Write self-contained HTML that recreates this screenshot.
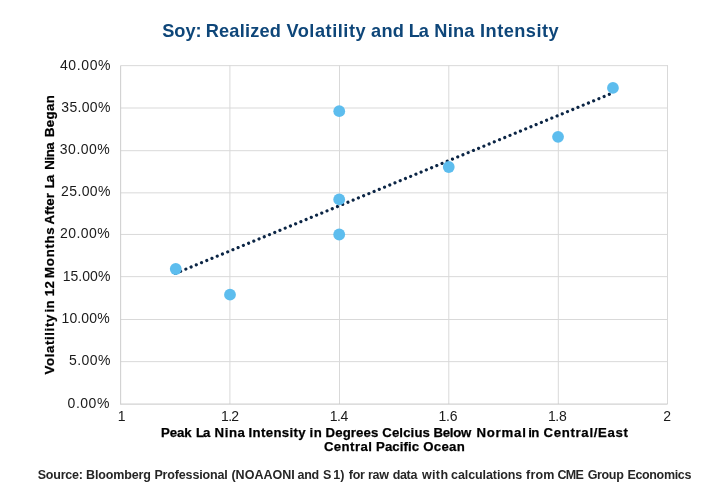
<!DOCTYPE html>
<html>
<head>
<meta charset="utf-8">
<style>
html,body{margin:0;padding:0;background:#fff;}
body{width:720px;height:500px;overflow:hidden;}
svg{display:block;}
text{font-family:"Liberation Sans", sans-serif;}
</style>
</head>
<body>
<svg width="720" height="500" viewBox="0 0 720 500" style="will-change:transform">
<rect x="0" y="0" width="720" height="500" fill="#fff"/>
<g font-size="18.2" font-weight="bold" fill="#0e4679">
<text x="162.25" y="36.75" letter-spacing="-0.042">Soy:</text>
<text x="205.65" y="36.75" letter-spacing="0.211">Realized</text>
<text x="286.38" y="36.75" letter-spacing="0.539">Volatility</text>
<text x="371.0" y="36.75" letter-spacing="0.312">and</text>
<text x="408.75" y="36.75" letter-spacing="-1.125">La</text>
<text x="434.35" y="36.75" letter-spacing="0.183">Nina</text>
<text x="480.0" y="36.75" letter-spacing="0.484">Intensity</text>
</g>
<g stroke="#d9d9d9" stroke-width="1" fill="none">
<line x1="120.6" y1="65.65" x2="668" y2="65.65"/>
<line x1="120.6" y1="108.0" x2="668" y2="108.0"/>
<line x1="120.6" y1="150.7" x2="668" y2="150.7"/>
<line x1="120.6" y1="192.85" x2="668" y2="192.85"/>
<line x1="120.6" y1="234.45" x2="668" y2="234.45"/>
<line x1="120.6" y1="276.65" x2="668" y2="276.65"/>
<line x1="120.6" y1="319.5" x2="668" y2="319.5"/>
<line x1="120.6" y1="361.65" x2="668" y2="361.65"/>
<line x1="229.9" y1="65.15" x2="229.9" y2="404.1"/>
<line x1="339.5" y1="65.15" x2="339.5" y2="404.1"/>
<line x1="448.8" y1="65.15" x2="448.8" y2="404.1"/>
<line x1="558.3" y1="65.15" x2="558.3" y2="404.1"/>
<line x1="667.5" y1="65.15" x2="667.5" y2="404.1"/>
</g>
<line x1="120.6" y1="404.1" x2="667.5" y2="404.1" stroke="#c6c6c6" stroke-width="1"/>
<line x1="120.65" y1="65.65" x2="120.65" y2="404.6" stroke="#cccccc" stroke-width="1"/>
<g font-size="14" fill="#1a1a1a">
<text x="59.92" y="69.50" letter-spacing="0.635">40.00%</text>
<text x="61.35" y="111.60" letter-spacing="0.31">35.00%</text>
<text x="59.85" y="153.80" letter-spacing="0.48">30.00%</text>
<text x="61.1" y="196.00" letter-spacing="0.36">25.00%</text>
<text x="59.9" y="238.45" letter-spacing="0.46">20.00%</text>
<text x="62.68" y="280.50" letter-spacing="0.045">15.00%</text>
<text x="61.48" y="322.80" letter-spacing="0.145">10.00%</text>
<text x="69.08" y="364.70" letter-spacing="0.394">5.00%</text>
<text x="67.6" y="407.50" letter-spacing="0.513">0.00%</text>
</g>
<g font-size="14" fill="#1a1a1a">
<text x="117.68" y="420.75">1</text>
<text x="221.08" y="420.75" letter-spacing="-0.737">1.2</text>
<text x="329.68" y="420.75" letter-spacing="-0.45">1.4</text>
<text x="438.58" y="420.75" letter-spacing="-0.275">1.6</text>
<text x="547.88" y="420.75" letter-spacing="-0.325">1.8</text>
<text x="663.35" y="420.75">2</text>
</g>
<line x1="175.4" y1="273.45" x2="612.9" y2="92.9" stroke="#0b2545" stroke-width="3.2" stroke-linecap="round" stroke-dasharray="0.001 5.655"/>
<g fill="#5dbdee">
<circle cx="175.75" cy="269" r="5.9"/>
<circle cx="230" cy="294.7" r="5.9"/>
<circle cx="339.25" cy="111.2" r="5.9"/>
<circle cx="339.2" cy="199.4" r="5.9"/>
<circle cx="339.2" cy="234.5" r="5.9"/>
<circle cx="448.75" cy="167" r="5.9"/>
<circle cx="558.05" cy="136.8" r="5.9"/>
<circle cx="612.95" cy="87.9" r="5.9"/>
</g>
<g font-size="13.2" font-weight="bold" fill="#000" stroke="#000" stroke-width="0.25">
<text x="160.88" y="437.2" letter-spacing="-0.042">Peak</text>
<text x="196.12" y="437.2" letter-spacing="-1.125">La</text>
<text x="214.62" y="437.2" letter-spacing="0.55">Nina</text>
<text x="248.52" y="437.2" letter-spacing="0.369">Intensity</text>
<text x="309.38" y="437.2" letter-spacing="0.75">in</text>
<text x="325.62" y="437.2" letter-spacing="0.104">Degrees</text>
<text x="382.25" y="437.2" letter-spacing="0.129">Celcius</text>
<text x="433.52" y="437.2" letter-spacing="-0.287">Below</text>
<text x="476.38" y="437.2" letter-spacing="0.825">Normal</text>
<text x="528.22" y="437.2" letter-spacing="-0.7">in</text>
<text x="543.5" y="437.2" letter-spacing="0.686">Central/East</text>
</g>
<g font-size="13.2" font-weight="bold" fill="#000" stroke="#000" stroke-width="0.25">
<text x="323.9" y="450.5" letter-spacing="0.433">Central</text>
<text x="376.02" y="450.5" letter-spacing="0.1">Pacific</text>
<text x="423.25" y="450.5" letter-spacing="0.312">Ocean</text>
</g>
<g transform="translate(53.6,380.0) rotate(-90)" font-size="13.2" font-weight="bold" fill="#000" stroke="#000" stroke-width="0.25">
<text x="5.48" y="0" letter-spacing="0.65">Volatility</text>
<text x="67.52" y="0" letter-spacing="0.4">in</text>
<text x="83.73" y="0" letter-spacing="0.35">12</text>
<text x="102.12" y="0" letter-spacing="0.74">Months</text>
<text x="155.43" y="0" letter-spacing="0.188">After</text>
<text x="191.72" y="0" letter-spacing="-2.025">La</text>
<text x="210.32" y="0" letter-spacing="-0.417">Nina</text>
<text x="242.92" y="0" letter-spacing="0.394">Began</text>
</g>
<g font-size="12.5" font-weight="bold" fill="#262626">
<text x="37.72" y="478.6" letter-spacing="-0.217">Source:</text>
<text x="86.02" y="478.6" letter-spacing="-0.131">Bloomberg</text>
<text x="154.43" y="478.6" letter-spacing="-0.15">Professional</text>
<text x="231.38" y="478.6" letter-spacing="0.036">(NOAAONI</text>
<text x="297.62" y="478.6" letter-spacing="-0.4">and</text>
<text x="322.92" y="478.6">S</text>
<text x="333.15" y="478.6" letter-spacing="0.25">1)</text>
<text x="348.65" y="478.6" letter-spacing="-0.175">for</text>
<text x="368.02" y="478.6" letter-spacing="-0.312">raw</text>
<text x="392.8" y="478.6" letter-spacing="-0.383">data</text>
<text x="421.9" y="478.6" letter-spacing="0.383">with</text>
<text x="451.1" y="478.6" letter-spacing="-0.095">calculations</text>
<text x="526.0" y="478.6" letter-spacing="0.233">from</text>
<text x="557.5" y="478.6" letter-spacing="-0.675">CME</text>
<text x="587.7" y="478.6" letter-spacing="-0.35">Group</text>
<text x="627.42" y="478.6" letter-spacing="-0.337">Economics</text>
</g>
</svg>
</body>
</html>
